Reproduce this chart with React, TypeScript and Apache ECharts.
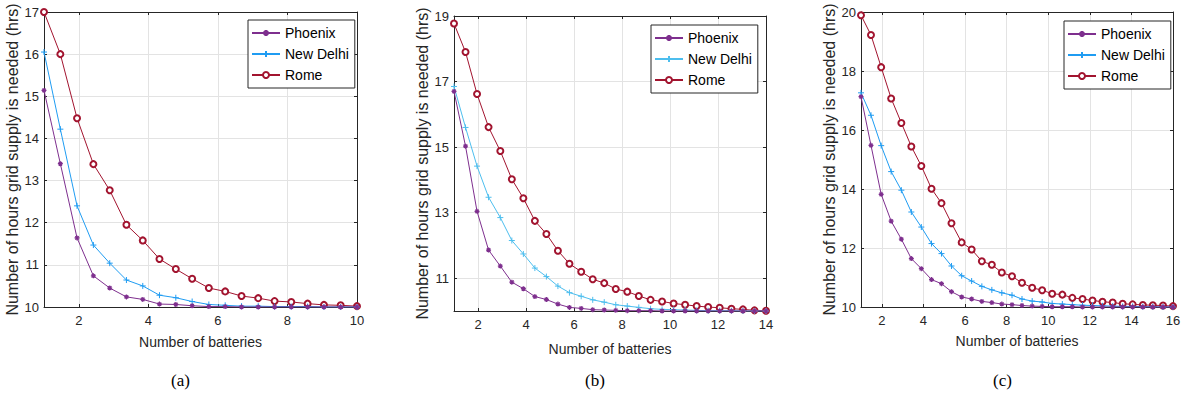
import React, { useEffect, useRef } from "react";
import * as echarts from "echarts";

// ---------- data ----------
const seriesNames = ["Phoenix", "New Delhi", "Rome"];

const xA = [1, 1.47, 1.95, 2.42, 2.89, 3.37, 3.84, 4.32, 4.79, 5.26, 5.74, 6.21, 6.68, 7.16, 7.63, 8.11, 8.58, 9.05, 9.53, 10];
const phoenixA = [15.14, 13.4, 11.64, 10.74, 10.45, 10.24, 10.18, 10.07, 10.06, 10.03, 10.01, 10.01, 10.0, 10.0, 10.0, 10.0, 10.0, 10.0, 10.0, 10.0];
const delhiA = [16.05, 14.22, 12.4, 11.47, 11.04, 10.64, 10.5, 10.28, 10.22, 10.13, 10.06, 10.04, 10.02, 10.02, 10.01, 10.01, 10.01, 10.0, 10.0, 10.0];
const romeA = [17.0, 16.0, 14.48, 13.39, 12.77, 11.95, 11.58, 11.14, 10.9, 10.67, 10.45, 10.37, 10.26, 10.21, 10.14, 10.12, 10.08, 10.05, 10.04, 10.02];

const xB = [1, 1.48, 1.96, 2.44, 2.93, 3.41, 3.89, 4.37, 4.85, 5.33, 5.81, 6.3, 6.78, 7.26, 7.74, 8.22, 8.7, 9.19, 9.67, 10.15, 10.63, 11.11, 11.59, 12.07, 12.56, 13.04, 13.52, 14];
const phoenixB = [16.7, 15.03, 13.04, 11.86, 11.37, 10.88, 10.68, 10.44, 10.35, 10.21, 10.11, 10.08, 10.04, 10.03, 10.02, 10.01, 10.01, 10.01, 10.0, 10.0, 10.0, 10.0, 10.0, 10.0, 10.0, 10.0, 10.0, 10.0];
const delhiB = [16.85, 15.6, 14.42, 13.47, 12.85, 12.15, 11.74, 11.31, 11.05, 10.76, 10.56, 10.45, 10.34, 10.27, 10.19, 10.15, 10.11, 10.07, 10.05, 10.04, 10.03, 10.02, 10.01, 10.01, 10.01, 10.0, 10.0, 10.0];
const romeB = [18.77, 17.9, 16.62, 15.61, 14.88, 14.02, 13.44, 12.75, 12.35, 11.84, 11.44, 11.2, 10.97, 10.85, 10.67, 10.59, 10.46, 10.34, 10.29, 10.23, 10.19, 10.15, 10.12, 10.1, 10.07, 10.05, 10.02, 10.01];

const xC = [1, 1.48, 1.97, 2.45, 2.94, 3.42, 3.9, 4.39, 4.87, 5.35, 5.84, 6.32, 6.81, 7.29, 7.77, 8.26, 8.74, 9.23, 9.71, 10.19, 10.68, 11.16, 11.65, 12.13, 12.61, 13.1, 13.58, 14.06, 14.55, 15.03, 15.52, 16];
const phoenixC = [17.13, 15.48, 13.82, 12.91, 12.3, 11.64, 11.3, 10.93, 10.79, 10.52, 10.34, 10.27, 10.19, 10.15, 10.1, 10.08, 10.05, 10.03, 10.02, 10.01, 10.01, 10.01, 10.0, 10.0, 10.0, 10.0, 10.0, 10.0, 10.0, 10.0, 10.0, 10.0];
const delhiC = [17.26, 16.5, 15.47, 14.59, 13.96, 13.22, 12.71, 12.15, 11.81, 11.39, 11.06, 10.88, 10.7, 10.58, 10.48, 10.4, 10.27, 10.2, 10.17, 10.12, 10.1, 10.08, 10.06, 10.05, 10.04, 10.03, 10.02, 10.02, 10.01, 10.01, 10.0, 10.0];
const romeC = [19.89, 19.22, 18.13, 17.07, 16.24, 15.44, 14.78, 14.01, 13.52, 12.84, 12.19, 11.95, 11.55, 11.43, 11.17, 11.04, 10.82, 10.65, 10.57, 10.45, 10.42, 10.31, 10.27, 10.22, 10.18, 10.15, 10.11, 10.09, 10.07, 10.06, 10.05, 10.03];

const xTicksA = [2, 4, 6, 8, 10];
const xTicksB = [2, 4, 6, 8, 10, 12, 14];
const xTicksC = [2, 4, 6, 8, 10, 12, 14, 16];
const yTicksA = [10, 11, 12, 13, 14, 15, 16, 17];
const yTicksB = [11, 13, 15, 17, 19];
const yTicksC = [10, 12, 14, 16, 18, 20];

const xTitle = "Number of batteries";
const yTitle = "Number of hours grid supply is needed (hrs)";
const captions = ["(a)", "(b)", "(c)"];

// ---------- style ----------
const FONT = "'Liberation Sans', Arial, Helvetica, sans-serif";
const AXIS_COLOR = "#262626";
const GRID_COLOR = "#e3e3e3";
const PURPLE = "#7E2F8E";
const BLUE = "#1f9cf2";
const BLUE_B = "#4dbeee";
const RED = "#A2142F";

const PLUS = "path://M5,0 L5,10 M0,5 L10,5";
const STAR = "path://M5,0 L5,10 M0,5 L10,5 M1.5,1.5 L8.5,8.5 M1.5,8.5 L8.5,1.5";

const panels = [
  { x: xA, ph: phoenixA, nd: delhiA, ro: romeA, xMax: 10, yMax: 17, xTicks: xTicksA, yTicks: yTicksA,
    grid: { left: 44, top: 12, width: 313, height: 295 }, xGap: 28, yGap: 20, legend: { left: 248, top: 20 }, blue: BLUE, capX: 183 },
  { x: xB, ph: phoenixB, nd: delhiB, ro: romeB, xMax: 14, yMax: 19, xTicks: xTicksB, yTicks: yTicksB,
    grid: { left: 454, top: 16, width: 312, height: 295 }, xGap: 31, yGap: 23, legend: { left: 651, top: 25 }, blue: BLUE_B, capX: 597 },
  { x: xC, ph: phoenixC, nd: delhiC, ro: romeC, xMax: 16, yMax: 20, xTicks: xTicksC, yTicks: yTicksC,
    grid: { left: 861, top: 12, width: 312, height: 295 }, xGap: 27, yGap: 20, legend: { left: 1064, top: 21 }, blue: BLUE, capX: 1005 },
];

const zip = (xs: number[], ys: number[]) => xs.map((x, i) => [x, ys[i]]);

function buildOption() {
  const grid: any[] = [];
  const xAxis: any[] = [];
  const yAxis: any[] = [];
  const series: any[] = [];
  const legend: any[] = [];
  const graphic: any[] = [];

  panels.forEach((p, i) => {
    grid.push({ ...p.grid, containLabel: false });
    const tickInside = { show: true, inside: true, length: 3, lineStyle: { color: AXIS_COLOR, width: 1 } };
    xAxis.push({
      type: "value", gridIndex: i, min: 1, max: p.xMax, position: "bottom",
      axisLine: { show: true, onZero: false, lineStyle: { color: AXIS_COLOR, width: 1 } },
      axisTick: { ...tickInside, customValues: p.xTicks },
      axisLabel: { customValues: p.xTicks, color: AXIS_COLOR, fontSize: 13, fontFamily: FONT, margin: 7 },
      splitLine: { show: true, lineStyle: { color: GRID_COLOR, width: 1 } },
      name: xTitle, nameLocation: "middle", nameGap: p.xGap,
      nameTextStyle: { color: AXIS_COLOR, fontSize: 14, fontFamily: FONT },
    });
    xAxis.push({
      type: "value", gridIndex: i, min: 1, max: p.xMax, position: "top",
      axisLine: { show: true, onZero: false, lineStyle: { color: AXIS_COLOR, width: 1 } },
      axisTick: { ...tickInside, customValues: p.xTicks },
      axisLabel: { show: false },
      splitLine: { show: false },
    });
    yAxis.push({
      type: "value", gridIndex: i, min: 10, max: p.yMax, position: "left",
      axisLine: { show: true, onZero: false, lineStyle: { color: AXIS_COLOR, width: 1 } },
      axisTick: { ...tickInside, customValues: p.yTicks },
      axisLabel: { customValues: p.yTicks, color: AXIS_COLOR, fontSize: 13, fontFamily: FONT, margin: 5 },
      splitLine: { show: true, lineStyle: { color: GRID_COLOR, width: 1 } },
      name: yTitle, nameLocation: "middle", nameGap: p.yGap, nameRotate: 90,
      nameTextStyle: { color: AXIS_COLOR, fontSize: 16, fontFamily: FONT },
    });
    yAxis.push({
      type: "value", gridIndex: i, min: 10, max: p.yMax, position: "right",
      axisLine: { show: true, onZero: false, lineStyle: { color: AXIS_COLOR, width: 1 } },
      axisTick: { ...tickInside, customValues: p.yTicks },
      axisLabel: { show: false },
      splitLine: { show: false },
    });

    const xi = i * 2;
    const yi = i * 2;
    series.push({
      name: seriesNames[0], type: "line", xAxisIndex: xi, yAxisIndex: yi,
      data: zip(p.x, p.ph), symbol: STAR, symbolSize: 5,
      lineStyle: { color: PURPLE, width: 1 },
      itemStyle: { color: PURPLE, borderColor: PURPLE, borderWidth: 1.2 },
      z: 4,
    });
    series.push({
      name: seriesNames[1], type: "line", xAxisIndex: xi, yAxisIndex: yi,
      data: zip(p.x, p.nd), symbol: PLUS, symbolSize: 6,
      lineStyle: { color: p.blue, width: 1 },
      itemStyle: { color: p.blue, borderColor: p.blue, borderWidth: 1 },
      z: 3,
    });
    series.push({
      name: seriesNames[2], type: "line", xAxisIndex: xi, yAxisIndex: yi,
      data: zip(p.x, p.ro), symbol: "emptyCircle", symbolSize: 6,
      lineStyle: { color: RED, width: 1 },
      itemStyle: { color: RED, borderColor: RED, borderWidth: 0.9 },
      z: 2,
    });

    legend.push({
      left: p.legend.left, top: p.legend.top, orient: "vertical",
      backgroundColor: "#ffffff", borderColor: AXIS_COLOR, borderWidth: 1, borderRadius: 0,
      padding: [6, 6, 6, 3], itemGap: 7, itemWidth: 28, itemHeight: 7.5,
      textStyle: { color: "#000", fontSize: 14, fontFamily: FONT },
      selectedMode: false,
      data: [
        { name: seriesNames[0], itemStyle: { color: PURPLE, borderColor: PURPLE }, lineStyle: { color: PURPLE } },
        { name: seriesNames[1], itemStyle: { color: p.blue, borderColor: p.blue }, lineStyle: { color: p.blue } },
        { name: seriesNames[2], itemStyle: { color: RED, borderColor: RED, borderWidth: 0.9 }, lineStyle: { color: RED } },
      ],
    });

    graphic.push({
      type: "text", left: p.capX - 12, top: 372,
      style: { text: captions[i], fill: "#000", font: "17px 'Liberation Serif', 'Times New Roman', serif" },
    });
  });

  return { animation: false, backgroundColor: "#ffffff", grid, xAxis, yAxis, series, legend, graphic };
}

export default function App() {
  const ref = useRef<HTMLDivElement>(null);
  useEffect(() => {
    if (!ref.current) return;
    const chart = echarts.init(ref.current, undefined, { renderer: "svg" });
    chart.setOption(buildOption() as any);
    return () => chart.dispose();
  }, []);
  return (
    <div
      ref={ref}
      style={{ position: "absolute", left: 0, top: 0, width: 1185, height: 395, background: "#fff" }}
    />
  );
}
